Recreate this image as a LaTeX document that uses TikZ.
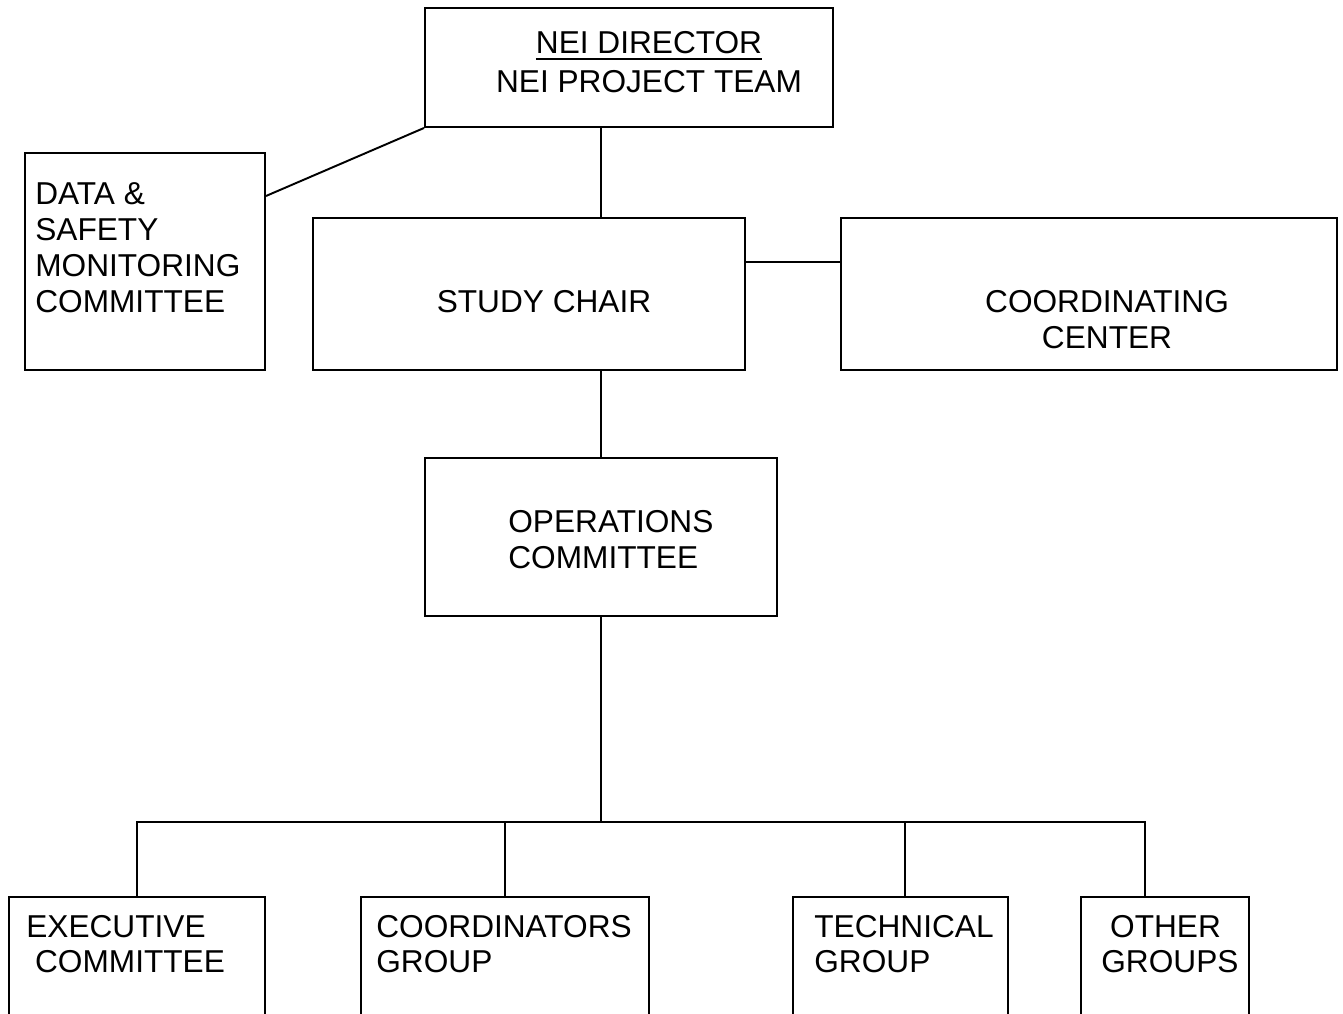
\documentclass[tikz,border=0pt]{standalone}
\usepackage{fontspec}
\setmainfont{Liberation Sans}
\newcommand{\headline}[1]{\vtop{\hbox{#1}\kern2.4pt\hrule height 1.1pt}}

\begin{document}
\begin{tikzpicture}[
    x=0.2mm, y=-0.2mm,
    font=\fontsize{18}{20.5}\selectfont,
    box/.style={draw, rectangle, line width=1.1pt, inner sep=0pt},
    txt/.style={inner sep=0pt, align=left},
    link/.style={line width=1.1pt, draw=black}
]
\useasboundingbox (0,0) rectangle (1343,1013);

% Boxes
\node[box, minimum width=81.6mm, minimum height=23.8mm] (director) at (629,67.5) {};
\node[box, minimum width=48mm, minimum height=43.4mm] (dsmc) at (145,261.5) {};
\node[box, minimum width=86.4mm, minimum height=30.4mm] (chair) at (529,294) {};
\node[box, minimum width=99.2mm, minimum height=30.4mm] (coord) at (1089,294) {};
\node[box, minimum width=70.4mm, minimum height=31.6mm] (ops) at (601,537) {};
\node[box, minimum width=51.2mm, minimum height=32.6mm] (exec) at (137,978.5) {};
\node[box, minimum width=57.6mm, minimum height=32.6mm] (group) at (505,978.5) {};
\node[box, minimum width=43mm, minimum height=32.6mm] (tech) at (900.5,978.5) {};
\node[box, minimum width=33.6mm, minimum height=32.6mm] (other) at (1165,978.5) {};

% Texts
\node[txt, anchor=north, align=center, font=\fontsize{18}{22}\selectfont] (directorText) at (649,31) {\headline{NEI DIRECTOR}\\NEI PROJECT TEAM};
\node[txt, anchor=north west] (dsmcText) at (35,182) {DATA \&\\SAFETY\\MONITORING\\COMMITTEE};
\node[txt, anchor=north] (chairText) at (544,290) {STUDY CHAIR};
\node[txt, anchor=north, align=center] (coordText) at (1107,290) {COORDINATING\\CENTER};
\node[txt, anchor=north west] (opsText) at (508,510) {OPERATIONS\\COMMITTEE};
\node[txt, anchor=north west, font=\fontsize{18}{20}\selectfont] (execText) at (26,915) {EXECUTIVE\\\hspace*{5pt}COMMITTEE};
\node[txt, anchor=north west, font=\fontsize{18}{20}\selectfont] (groupText) at (376,915) {COORDINATORS\\GROUP};
\node[txt, anchor=north west, font=\fontsize{18}{20}\selectfont] (techText) at (814,915) {TECHNICAL\\GROUP};
\node[txt, anchor=north west, font=\fontsize{18}{20}\selectfont] (otherText) at (1101,915) {\hspace*{5pt}OTHER\\GROUPS};

% Edges
\coordinate (spine) at (601,0);
\coordinate (bus) at (0,822);
\coordinate (dropTech) at (905,822);
\coordinate (dropOther) at (1145,822);
\draw[link] (director.south -| spine) -- (chair.north -| spine);
\draw[link] (director.south west) -- ([yshift=13.1mm]dsmc.east);
\draw[link] ([yshift=6.4mm]chair.east) -- ([yshift=6.4mm]coord.west);
\draw[link] (chair.south -| spine) -- (ops.north);
\draw[link] (ops.south) -- (ops.south |- bus);
\draw[link] (exec.north) -- (exec.north |- bus) -- (dropOther) -- (dropOther |- other.north);
\draw[link] (group.north |- bus) -- (group.north);
\draw[link] (dropTech) -- (dropTech |- tech.north);
\end{tikzpicture}
\end{document}
